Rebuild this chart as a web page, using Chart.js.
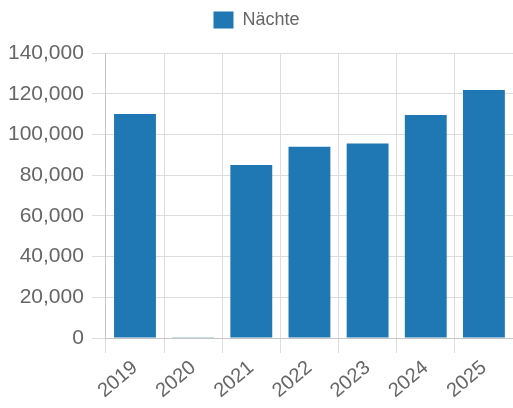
<!DOCTYPE html>
<html>
<head>
<meta charset="utf-8">
<script src="https://cdn.jsdelivr.net/npm/chart.js@4"></script>
<style>
    html, body { margin: 0; padding: 0; background: #fff; }
    #wrap { width: 513px; height: 408px; }
</style>
</head>
<body>
<div id="wrap"><canvas id="nightsView"></canvas></div>
<script>
const years = ["2019", "2020", "2021", "2022", "2023", "2024", "2025"];
const nights = [110000, 400, 85000, 94000, 95500, 109500, 121800];
const seriesLabel = "Nächte";

Chart.defaults.font.family = "'Liberation Sans', Arial, sans-serif";
Chart.defaults.color = "#666";

// extra room under the legend
const legendGap = {
    id: "legendGap",
    beforeInit(chart) {
        const fit = chart.legend.fit;
        chart.legend.fit = function () {
            fit.bind(chart.legend)();
            this.height += 14;
        };
    },
};

const ctx = document.getElementById("nightsView");
const barChart = new Chart(ctx, {
    type: "bar",
    data: {
        labels: years,
        datasets: [
            {
                label: seriesLabel,
                data: nights,
                backgroundColor: "#1f77b4",
                borderWidth: 0,
            },
        ],
    },
    options: {
        responsive: true,
        maintainAspectRatio: false,
        animation: false,
        layout: {
            padding: { left: 0, right: 0, top: 1, bottom: 2 },
        },
        plugins: {
            legend: {
                labels: {
                    font: { size: 18 },
                    boxWidth: 20,
                    boxHeight: 17,
                },
            },
        },
        scales: {
            x: {
                grid: { color: "#ddd", tickLength: 15 },
                ticks: {
                    font: { size: 20 },
                    minRotation: 40,
                    maxRotation: 40,
                },
            },
            y: {
                beginAtZero: true,
                max: 140000,
                grid: { color: "#ddd", tickLength: 14 },
                ticks: {
                    stepSize: 20000,
                    padding: 8,
                    font: { size: 21 },
                },
            },
        },
    },
    plugins: [legendGap],
});
</script>
</body>
</html>
